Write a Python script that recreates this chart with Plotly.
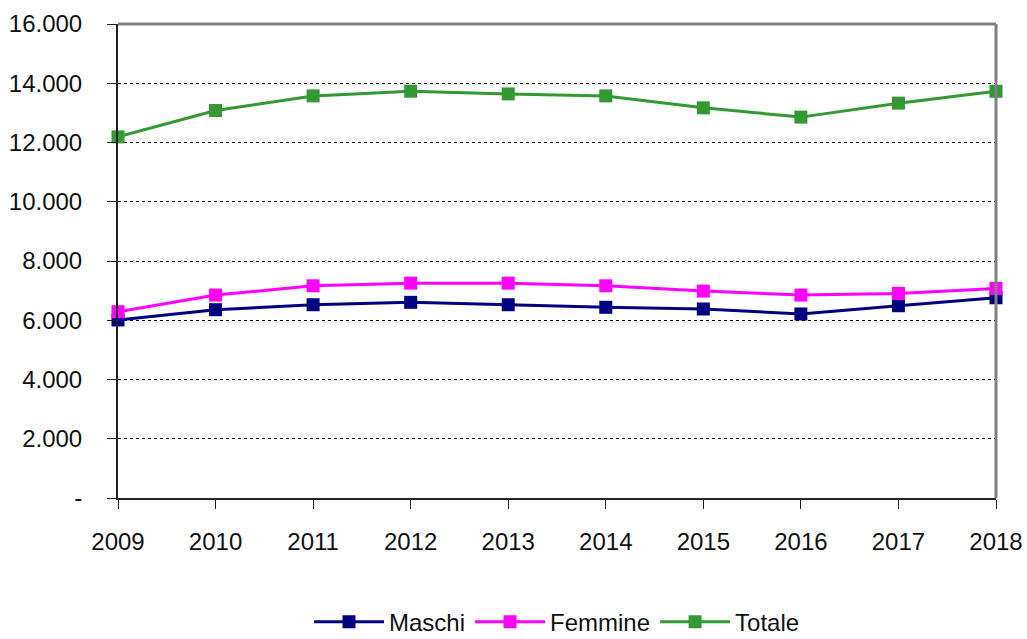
import plotly.graph_objects as go

years = [2009, 2010, 2011, 2012, 2013, 2014, 2015, 2016, 2017, 2018]
maschi = [6010, 6356, 6524, 6605, 6524, 6437, 6380, 6212, 6490, 6759]
femmine = [6289, 6850, 7163, 7253, 7253, 7163, 6985, 6850, 6907, 7075]
totale = [12190, 13080, 13573, 13730, 13640, 13573, 13170, 12857, 13328, 13730]

y_tickvals = [0, 2000, 4000, 6000, 8000, 10000, 12000, 14000, 16000]
y_ticktext = ["-", "2.000", "4.000", "6.000", "8.000", "10.000", "12.000", "14.000", "16.000"]

series = [
    ("Maschi", maschi, "#000080"),
    ("Femmine", femmine, "#FF00FF"),
    ("Totale", totale, "#339933"),
]

FONT = "Liberation Sans, Arial, sans-serif"
FS = 24

fig = go.Figure()
for name, vals, col in series:
    fig.add_trace(go.Scatter(
        x=years, y=vals, name=name, mode="lines+markers",
        line=dict(color=col, width=3),
        marker=dict(symbol="square", size=13, color=col),
        cliponaxis=False,
    ))

fig.update_layout(
    width=1027, height=639,
    margin=dict(l=118, r=31, t=24, b=141, autoexpand=False),
    paper_bgcolor="white", plot_bgcolor="white",
    font=dict(family=FONT, size=FS, color="#111111"),
    showlegend=True,
    legend=dict(orientation="h", x=0.5, xanchor="center", y=-0.262, yanchor="middle",
                font=dict(family=FONT, size=FS, color="#111111"), itemwidth=70,
                traceorder="normal"),
    shapes=[
        dict(type="line", xref="paper", yref="paper", x0=0, x1=1, y0=1, y1=1,
             line=dict(color="#808080", width=3)),
        dict(type="line", xref="paper", yref="paper", x0=1, x1=1, y0=0, y1=1,
             line=dict(color="#808080", width=3)),
    ],
)

fig.update_xaxes(
    range=[2009, 2018], tickvals=years, ticktext=[str(y) for y in years],
    showgrid=False, zeroline=False, showline=True, linecolor="#222222", linewidth=2,
    ticks="outside", ticklen=9, tickcolor="#222222", tickwidth=1,
    tickfont=dict(family=FONT, size=FS), ticklabelstandoff=12,
    automargin=False, ticklabeloverflow="allow",
)
fig.update_yaxes(
    range=[0, 16000], tickvals=y_tickvals, ticktext=y_ticktext,
    showgrid=True, gridcolor="#000000", gridwidth=1, griddash="dot",
    zeroline=False, showline=True, linecolor="#222222", linewidth=2,
    ticks="outside", ticklen=9, tickcolor="#222222", tickwidth=1,
    tickfont=dict(family=FONT, size=FS), ticklabelstandoff=20,
    automargin=False, ticklabeloverflow="allow",
)

fig.write_html(
    "out.html",
    config={"displayModeBar": False},
    post_script="document.body.style.margin='0';document.body.style.overflow='hidden';",
)
